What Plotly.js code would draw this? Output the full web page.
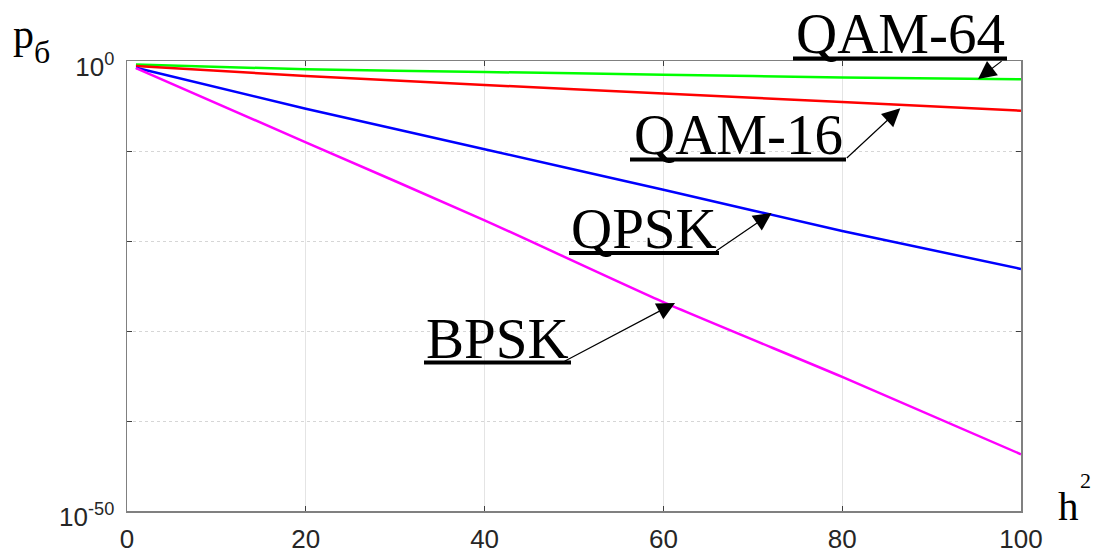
<!DOCTYPE html>
<html>
<head>
<meta charset="utf-8">
<script src="https://cdn.plot.ly/plotly-3.0.1.min.js"></script>
<style>html,body{margin:0;padding:0;background:#fff;}#chart{width:1101px;height:555px;}</style>
</head>
<body>
<div id="chart"></div>
<script>
// h^2 values at which the curves were read
const h2 = [1, 20, 40, 60, 80, 100];
// bit error probability
const qam64 = [4.0e-1, 1.2e-1, 6.0e-2, 3.0e-2, 1.5e-2, 9.3e-3];
const qam16 = [2.8e-1, 2.2e-2, 2.2e-3, 2.5e-4, 2.8e-5, 3.0e-6];
const qpsk  = [1.8e-1, 5.0e-6, 1.6e-10, 5.0e-15, 1.3e-19, 7.9e-24];
const bpsk  = [1.6e-1, 9.3e-10, 2.0e-18, 1.6e-27, 7.9e-36, 2.0e-44];
const seriesNames = ["QAM-64", "QAM-16", "QPSK", "BPSK"];
const xTicks = [0, 20, 40, 60, 80, 100];
const yTicks = [1e-50, 1e-40, 1e-30, 1e-20, 1e-10, 1];
const yTickText = ["10<sup>-50</sup>", "", "", "", "", "10<sup>0</sup>"];
// arrow targets (on the curves)
const arrowX = [95.2, 86.5, 72.1, 61.3];
const arrowY = [1.0e-2, 5.5e-6, 1.3e-17, 1.3e-27];

const colors = ["#00ff00", "#ff0000", "#0000ff", "#ff00ff"];
const allY = [qam64, qam16, qpsk, bpsk];

const traces = allY.map((ys, i) => ({
  x: h2, y: ys, type: "scatter", mode: "lines", name: seriesNames[i],
  line: {color: colors[i], width: 2.5, shape: "spline", smoothing: 0.6}, showlegend: false, hoverinfo: "skip"
}));

const L = 127, R = 1021, T = 61, B = 511;
const W = R - L, H = B - T;
const px = v => (v - L) / W;
const py = v => (B - v) / H;

const serif = "Liberation Serif, Times New Roman, serif";
const labelFont = {family: serif, size: 57, color: "#000"};

const labelPos = [[900.5, 33], [738, 135], [644, 229], [497, 338]];
const underline = [[793, 1007, 58.5], [630, 846, 159.5], [569, 719, 253], [424, 571, 362.5]];
const tails = [[25, -19], [-55, 51], [-57, 39], [-112, 59]];

const annotations = [];
const shapes = [];
seriesNames.forEach((n, i) => {
  annotations.push({
    xref: "paper", yref: "paper", x: px(labelPos[i][0]), y: py(labelPos[i][1]),
    xanchor: "center", yanchor: "middle", text: n, showarrow: false, font: labelFont
  });
  annotations.push({
    xref: "x", yref: "y", x: arrowX[i], y: Math.log10(arrowY[i]), text: "",
    showarrow: true, arrowhead: 2, arrowsize: 3, arrowwidth: 1.2, arrowcolor: "#000",
    ax: tails[i][0], ay: tails[i][1], standoff: 0
  });
  shapes.push({
    type: "line", xref: "paper", yref: "paper",
    x0: px(underline[i][0]), x1: px(underline[i][1]),
    y0: py(underline[i][2]), y1: py(underline[i][2]),
    line: {color: "#000", width: 4}
  });
});

annotations.push({xref: "paper", yref: "paper", x: px(11), y: py(34), xanchor: "left", yanchor: "middle",
  text: "p", showarrow: false, font: {family: serif, size: 42, color: "#000"}});
annotations.push({xref: "paper", yref: "paper", x: px(32), y: py(52), xanchor: "left", yanchor: "middle",
  text: "б", showarrow: false, font: {family: serif, size: 32, color: "#000"}});
annotations.push({xref: "paper", yref: "paper", x: px(1056), y: py(506), xanchor: "left", yanchor: "middle",
  text: "h", showarrow: false, font: {family: serif, size: 41, color: "#000"}});
annotations.push({xref: "paper", yref: "paper", x: px(1078), y: py(480), xanchor: "left", yanchor: "middle",
  text: "2", showarrow: false, font: {family: serif, size: 22, color: "#000"}});

const tickFont = {family: "Liberation Sans, Arial, sans-serif", size: 26, color: "#262626"};

const layout = {
  width: 1101, height: 555,
  margin: {l: L, r: 1101 - R, t: T, b: 555 - B, pad: 0},
  paper_bgcolor: "#fff", plot_bgcolor: "#fff",
  showlegend: false,
  xaxis: {
    range: [0, 100], tickvals: xTicks, ticktext: xTicks.map(String),
    ticks: "inside", ticklen: 5, tickcolor: "#404040", tickwidth: 1,
    showline: true, linecolor: "#808080", linewidth: 1.5, mirror: "ticks",
    showgrid: true, gridcolor: "#e4e4e4", gridwidth: 1, griddash: "solid",
    zeroline: false, tickfont: tickFont, fixedrange: true, ticklabelstandoff: 4
  },
  yaxis: {
    type: "log", range: [-50, 0], tickvals: yTicks, ticktext: yTickText,
    ticks: "inside", ticklen: 5, tickcolor: "#404040", tickwidth: 1,
    showline: true, linecolor: "#808080", linewidth: 1.5, mirror: "ticks",
    showgrid: true, gridcolor: "#d6d6d6", gridwidth: 1, griddash: "dot",
    zeroline: false, tickfont: tickFont, fixedrange: true, ticklabelshift: 6, ticklabelstandoff: 6
  },
  annotations: annotations,
  shapes: shapes
};

Plotly.newPlot("chart", traces, layout, {displayModeBar: false, staticPlot: true});
</script>
</body>
</html>
